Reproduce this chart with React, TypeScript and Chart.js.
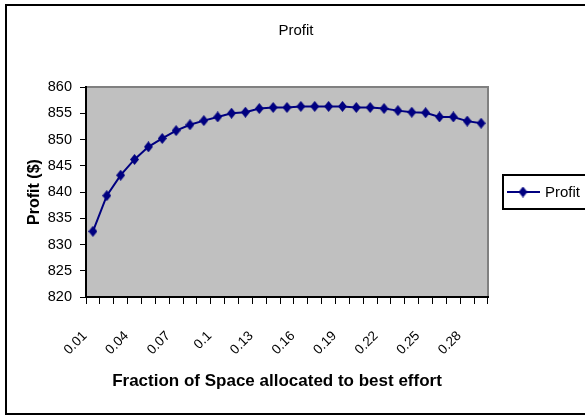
import { useEffect, useRef } from 'react';
import { Chart, registerables } from 'chart.js';

Chart.register(...registerables);

// Fraction of space given to best-effort traffic
const fractions = [
  '0.01', '0.02', '0.03', '0.04', '0.05', '0.06', '0.07', '0.08', '0.09', '0.1',
  '0.11', '0.12', '0.13', '0.14', '0.15', '0.16', '0.17', '0.18', '0.19', '0.2',
  '0.21', '0.22', '0.23', '0.24', '0.25', '0.26', '0.27', '0.28', '0.29',
];

// Profit ($) for each fraction
const profit = [
  832.5, 839.3, 843.2, 846.2, 848.6, 850.2, 851.7, 852.8, 853.6, 854.3,
  855.0, 855.2, 855.9, 856.1, 856.1, 856.3, 856.3, 856.3, 856.3, 856.1,
  856.1, 855.9, 855.5, 855.2, 855.1, 854.3, 854.3, 853.5, 853.1,
];

const yMin = 820;
const yMax = 860;
const yStep = 5;
const labelEvery = 3;

const chartTitle = 'Profit';
const seriesName = 'Profit';
const xTitle = 'Fraction of Space allocated to best effort';
const yTitle = 'Profit ($)';

const NAVY = '#000080';
const FONT = 'Arial, "Liberation Sans", sans-serif';

// Slightly tall diamond marker, like the spreadsheet's default
function makeDiamond(w: number, h: number, color: string): HTMLCanvasElement {
  const c = document.createElement('canvas');
  c.width = w;
  c.height = h;
  const g = c.getContext('2d')!;
  g.fillStyle = color;
  g.beginPath();
  g.moveTo(w / 2, 0);
  g.lineTo(w, h / 2);
  g.lineTo(w / 2, h);
  g.lineTo(0, h / 2);
  g.closePath();
  g.fill();
  return c;
}

const sheetPlugin = {
  id: 'sheetFrame',
  beforeDraw(chart: any) {
    const { ctx, chartArea: a } = chart;
    ctx.save();
    ctx.fillStyle = '#ffffff';
    ctx.fillRect(0, 0, chart.width, chart.height);
    // plot area
    ctx.fillStyle = '#C0C0C0';
    ctx.fillRect(a.left, a.top, a.right - a.left, a.bottom - a.top);
    ctx.strokeStyle = '#808080';
    ctx.lineWidth = 2;
    ctx.beginPath();
    ctx.moveTo(a.left, a.top);
    ctx.lineTo(a.right, a.top);
    ctx.lineTo(a.right, a.bottom);
    ctx.stroke();
    // outer chart border
    ctx.strokeStyle = '#000000';
    ctx.lineWidth = 2;
    ctx.strokeRect(6, 5, chart.width + 20, 409);
    ctx.restore();
  },
  afterDraw(chart: any) {
    const { ctx } = chart;
    ctx.save();
    ctx.fillStyle = '#000000';
    ctx.textAlign = 'center';
    ctx.textBaseline = 'middle';

    // chart title
    ctx.font = `15px ${FONT}`;
    ctx.fillText(chartTitle, 296, 31);

    // x axis title
    ctx.font = `bold 17px ${FONT}`;
    ctx.fillText(xTitle, 277, 381);

    // y axis title
    ctx.save();
    ctx.translate(35, 192);
    ctx.rotate(-Math.PI / 2);
    ctx.font = `bold 16px ${FONT}`;
    ctx.fillText(yTitle, 0, 0);
    ctx.restore();

    // legend
    const ds = chart.data.datasets[0];
    ctx.strokeStyle = '#000000';
    ctx.lineWidth = 2;
    ctx.strokeRect(503, 175, 100, 34);
    ctx.strokeStyle = ds.borderColor;
    ctx.lineWidth = 2;
    ctx.beginPath();
    ctx.moveTo(507, 192);
    ctx.lineTo(540, 192);
    ctx.stroke();
    const marker = ds.pointStyle as HTMLCanvasElement;
    ctx.drawImage(marker, 523 - marker.width / 2, 192 - marker.height / 2);
    ctx.fillStyle = '#000000';
    ctx.textAlign = 'left';
    ctx.font = `15px ${FONT}`;
    ctx.fillText(ds.label, 545, 193);
    ctx.restore();
  },
};

export default function App() {
  const canvasRef = useRef<HTMLCanvasElement | null>(null);

  useEffect(() => {
    const canvas = canvasRef.current;
    if (!canvas) return;
    const diamond = makeDiamond(9, 11, NAVY);
    const chart = new Chart(canvas, {
      type: 'line',
      data: {
        labels: fractions,
        datasets: [
          {
            label: seriesName,
            data: profit,
            borderColor: NAVY,
            backgroundColor: NAVY,
            borderWidth: 2,
            tension: 0,
            pointStyle: diamond,
            pointRadius: 5,
          },
        ],
      },
      options: {
        responsive: false,
        animation: false,
        devicePixelRatio: 1,
        layout: { padding: { top: 87, right: 97, left: 0, bottom: 0 } },
        plugins: {
          legend: { display: false },
          title: { display: false },
          tooltip: { enabled: false },
        },
        scales: {
          x: {
            type: 'category',
            offset: true,
            afterFit: (scale: any) => {
              scale.height = 118;
            },
            grid: {
              offset: true,
              drawOnChartArea: false,
              drawTicks: true,
              tickLength: 7,
              color: '#000000',
              lineWidth: 1,
            },
            border: { display: true, color: '#000000', width: 2 },
            ticks: {
              autoSkip: false,
              maxRotation: 45,
              minRotation: 45,
              padding: 24,
              labelOffset: -8,
              color: '#000000',
              font: { family: FONT, size: 13.5 },
              callback: (_v: any, i: number) => (i % labelEvery === 0 ? fractions[i] : ''),
            },
          },
          y: {
            min: yMin,
            max: yMax,
            afterFit: (scale: any) => {
              scale.width = 86;
            },
            grid: {
              drawOnChartArea: false,
              drawTicks: true,
              tickLength: 6,
              color: '#000000',
              lineWidth: 1,
            },
            border: { display: true, color: '#000000', width: 2 },
            ticks: {
              stepSize: yStep,
              padding: 8,
              color: '#000000',
              font: { family: FONT, size: 14.5 },
            },
          },
        },
      },
      plugins: [sheetPlugin],
    });
    return () => chart.destroy();
  }, []);

  return (
    <div style={{ position: 'fixed', left: 0, top: 0, width: 585, height: 415 }}>
      <canvas ref={canvasRef} width={585} height={415} style={{ display: 'block' }} />
    </div>
  );
}
